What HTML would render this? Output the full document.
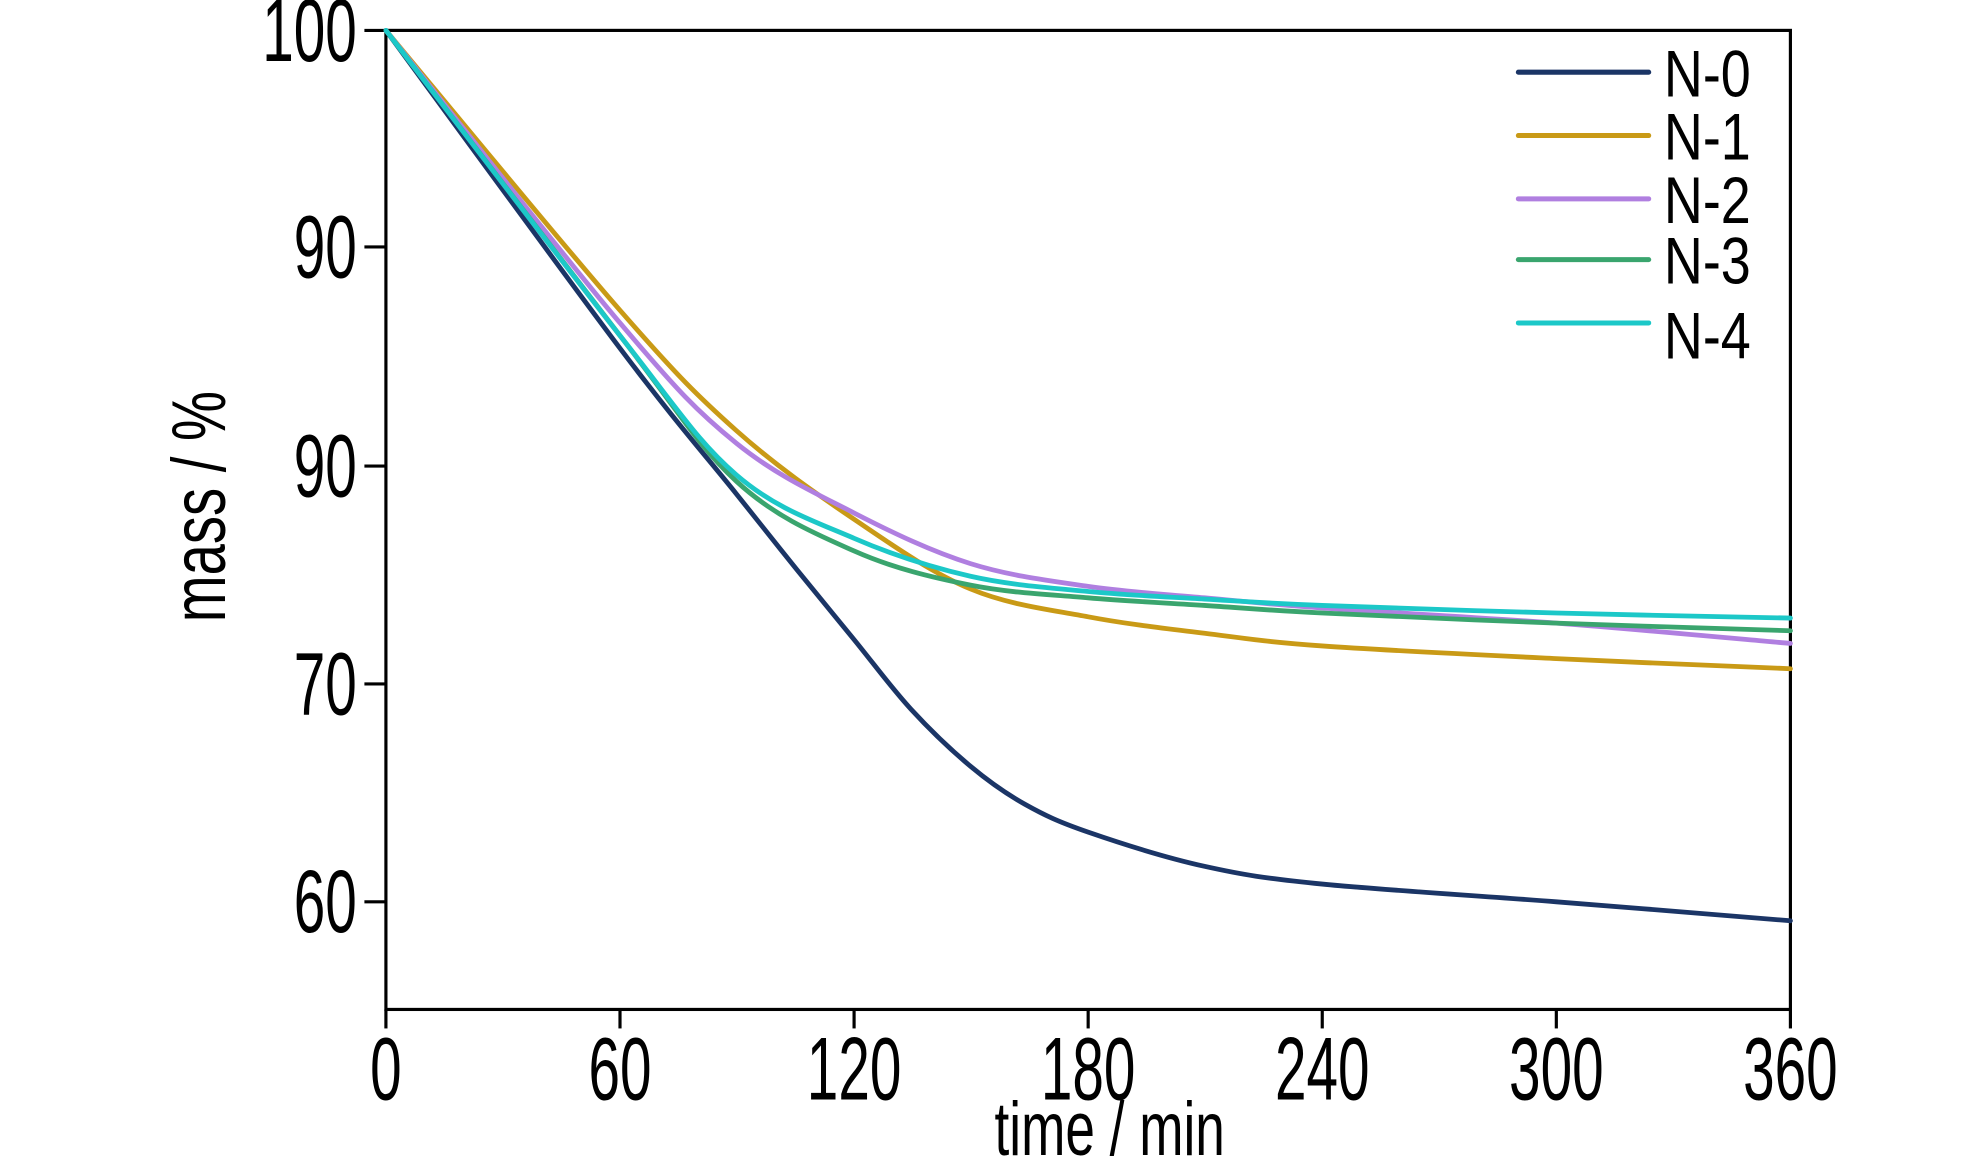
<!DOCTYPE html>
<html><head><meta charset="utf-8"><style>
html,body{margin:0;padding:0;background:#fff;}
svg{display:block;}
text{font-family:"Liberation Sans",Arial,sans-serif;fill:#000;}
</style></head><body>
<svg id="s" width="1984" height="1157" viewBox="0 0 1568 913.5" preserveAspectRatio="none" xmlns="http://www.w3.org/2000/svg">
<rect x="0" y="0" width="1568" height="914" fill="#fff"/>
<rect x="305" y="24" width="1110" height="773" fill="none" stroke="#000" stroke-width="2.5"/>
<g stroke="#000" stroke-width="2.5">
<line x1="288" y1="24" x2="305" y2="24"/>
<line x1="288" y1="195" x2="305" y2="195"/>
<line x1="288" y1="368" x2="305" y2="368"/>
<line x1="288" y1="540" x2="305" y2="540"/>
<line x1="288" y1="712" x2="305" y2="712"/>
<line x1="305" y1="797" x2="305" y2="812"/>
<line x1="490" y1="797" x2="490" y2="812"/>
<line x1="675" y1="797" x2="675" y2="812"/>
<line x1="860" y1="797" x2="860" y2="812"/>
<line x1="1045" y1="797" x2="1045" y2="812"/>
<line x1="1230" y1="797" x2="1230" y2="812"/>
<line x1="1415" y1="797" x2="1415" y2="812"/>
</g>
<g font-size="70" text-anchor="end">
<text transform="translate(282,48) scale(0.64,1)">100</text>
<text transform="translate(282,219) scale(0.64,1)">90</text>
<text transform="translate(282,392) scale(0.64,1)">90</text>
<text transform="translate(282,564) scale(0.64,1)">70</text>
<text transform="translate(282,736) scale(0.64,1)">60</text>
</g>
<g font-size="70" text-anchor="middle">
<text transform="translate(305,868) scale(0.64,1)">0</text>
<text transform="translate(490,868) scale(0.64,1)">60</text>
<text transform="translate(675,868) scale(0.64,1)">120</text>
<text transform="translate(860,868) scale(0.64,1)">180</text>
<text transform="translate(1045,868) scale(0.64,1)">240</text>
<text transform="translate(1230,868) scale(0.64,1)">300</text>
<text transform="translate(1415,868) scale(0.64,1)">360</text>
<text transform="translate(877,912) scale(0.7,1)" font-size="60">time / min</text>
<text transform="translate(178,400) rotate(-90) scale(0.74,1)" font-size="60">mass / %</text>
</g>
<g id="curves" fill="none" stroke-width="3.8" stroke-linecap="round" stroke-linejoin="round"></g>
<g stroke-width="4" stroke-linecap="round">
<line x1="1200" y1="57" x2="1303" y2="57" stroke="#1b3566"/>
<line x1="1200" y1="107" x2="1303" y2="107" stroke="#c99a16"/>
<line x1="1200" y1="157" x2="1303" y2="157" stroke="#b07fe0"/>
<line x1="1200" y1="205" x2="1303" y2="205" stroke="#3aa56e"/>
<line x1="1200" y1="255" x2="1303" y2="255" stroke="#1cc8c8"/>
</g>
<g font-size="52">
<text transform="translate(1315,76) scale(0.82,1)">N-0</text>
<text transform="translate(1315,126) scale(0.82,1)">N-1</text>
<text transform="translate(1315,176) scale(0.82,1)">N-2</text>
<text transform="translate(1315,224) scale(0.82,1)">N-3</text>
<text transform="translate(1315,283) scale(0.82,1)">N-4</text>
</g>
</svg>
<script>
var data=[
["#1b3566",[[305,24],[490,275],[582,390],[630,450],[675,505],[720,560],[767,605],[810,635],[860,657],[952,684],[1045,698],[1230,712],[1415,727]]],
["#c99a16",[[305,24],[490,245],[582,340],[675,410],[767,465],[860,487],[952,500],[1045,510],[1230,520],[1415,528]]],
["#b07fe0",[[305,24],[490,255],[582,350],[675,405],[767,445],[860,463],[952,472],[1045,480],[1230,492],[1415,508]]],
["#3aa56e",[[305,24],[490,265],[582,380],[675,435],[767,462],[860,472],[952,478],[1045,484],[1230,492],[1415,498]]],
["#1cc8c8",[[305,24],[490,265],[582,375],[675,425],[767,455],[860,467],[952,473],[1045,478],[1230,484],[1415,488]]]
];
var g=document.getElementById("curves");
data.forEach(function(d){
 var p=d[1],s="M"+p[0][0]+","+p[0][1];
 for(var i=0;i<p.length-1;i++){
  var p0=p[i-1]||p[i],p1=p[i],p2=p[i+1],p3=p[i+2]||p2;
  var c1x=p1[0]+(p2[0]-p0[0])/6,c1y=p1[1]+(p2[1]-p0[1])/6;
  var c2x=p2[0]-(p3[0]-p1[0])/6,c2y=p2[1]-(p3[1]-p1[1])/6;
  s+=" C"+c1x+","+c1y+" "+c2x+","+c2y+" "+p2[0]+","+p2[1];
 }
 var e=document.createElementNS("http://www.w3.org/2000/svg","path");
 e.setAttribute("d",s);e.setAttribute("stroke",d[0]);g.appendChild(e);
});
</script>
</body></html>
